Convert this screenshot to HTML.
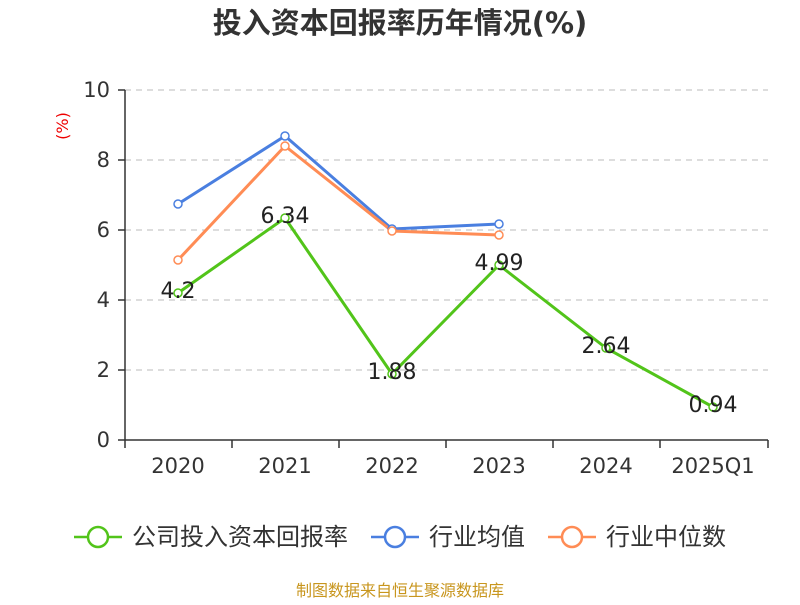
<!DOCTYPE html>
<html><head><meta charset="utf-8"><style>
body{margin:0;background:#fff;}
svg text{font-family:"DejaVu Sans","Noto Sans CJK SC",sans-serif;}
</style></head><body>
<svg width="800" height="600" xmlns="http://www.w3.org/2000/svg">
<text x="400" y="33" text-anchor="middle" font-size="29" font-weight="bold" fill="#333">投入资本回报率历年情况(%)</text>
<text x="68" y="126" font-size="16" fill="#e00" text-anchor="middle" transform="rotate(-90 68 126)">(%)</text>
<g stroke="#bbb" stroke-dasharray="6,5" stroke-width="1">
<line x1="125" y1="90" x2="768" y2="90"/><line x1="125" y1="160" x2="768" y2="160"/>
<line x1="125" y1="230" x2="768" y2="230"/><line x1="125" y1="300" x2="768" y2="300"/>
<line x1="125" y1="370" x2="768" y2="370"/>
</g>
<g stroke="#333" stroke-width="1.5">
<line x1="125" y1="90" x2="125" y2="440"/><line x1="125" y1="440" x2="768" y2="440"/>
<line x1="118" y1="90" x2="125" y2="90"/><line x1="118" y1="160" x2="125" y2="160"/><line x1="118" y1="230" x2="125" y2="230"/><line x1="118" y1="300" x2="125" y2="300"/><line x1="118" y1="370" x2="125" y2="370"/><line x1="118" y1="440" x2="125" y2="440"/>
<line x1="125" y1="440" x2="125" y2="448"/><line x1="232" y1="440" x2="232" y2="448"/><line x1="339" y1="440" x2="339" y2="448"/><line x1="446" y1="440" x2="446" y2="448"/><line x1="553" y1="440" x2="553" y2="448"/><line x1="660" y1="440" x2="660" y2="448"/><line x1="768" y1="440" x2="768" y2="448"/>
</g>
<g font-size="21" fill="#333" text-anchor="end">
<text x="110" y="97">10</text><text x="110" y="167">8</text><text x="110" y="237">6</text><text x="110" y="307">4</text><text x="110" y="377">2</text><text x="110" y="447">0</text>
</g>
<g font-size="21" fill="#333" text-anchor="middle">
<text x="178" y="473">2020</text><text x="285" y="473">2021</text><text x="392" y="473">2022</text><text x="499" y="473">2023</text><text x="606" y="473">2024</text><text x="713" y="473">2025Q1</text>
</g>
<polyline points="178,204 285,136 392,229 499,224" fill="none" stroke="#4a7fe0" stroke-width="3"/>
<polyline points="178,260 285,146 392,231 499,235" fill="none" stroke="#ff8c55" stroke-width="3"/>
<polyline points="178,293 285,218 392,374 499,265 606,348 713,407" fill="none" stroke="#52c41a" stroke-width="3"/>
<g fill="#fff" stroke-width="1.5">
<g stroke="#4a7fe0"><circle cx="178" cy="204" r="4"/><circle cx="285" cy="136" r="4"/><circle cx="392" cy="229" r="4"/><circle cx="499" cy="224" r="4"/></g>
<g stroke="#ff8c55"><circle cx="178" cy="260" r="4"/><circle cx="285" cy="146" r="4"/><circle cx="392" cy="231" r="4"/><circle cx="499" cy="235" r="4"/></g>
<g stroke="#52c41a"><circle cx="178" cy="293" r="4"/><circle cx="285" cy="218" r="4"/><circle cx="392" cy="374" r="4"/><circle cx="499" cy="265" r="4"/><circle cx="606" cy="348" r="4"/><circle cx="713" cy="407" r="4"/></g>
</g>
<g font-size="22" fill="#222" text-anchor="middle">
<text x="178" y="298">4.2</text><text x="285" y="223">6.34</text><text x="392" y="379">1.88</text><text x="499" y="270">4.99</text><text x="606" y="353">2.64</text><text x="713" y="412">0.94</text>
</g>
<g stroke-width="2.5" fill="#fff">
<line x1="74" y1="537" x2="122" y2="537" stroke="#52c41a"/><circle cx="98" cy="537" r="10" stroke="#52c41a"/>
<line x1="371" y1="537" x2="419" y2="537" stroke="#4a7fe0"/><circle cx="395" cy="537" r="10" stroke="#4a7fe0"/>
<line x1="548" y1="537" x2="596" y2="537" stroke="#ff8c55"/><circle cx="572" cy="537" r="10" stroke="#ff8c55"/>
</g>
<g font-size="24" fill="#333">
<text x="132" y="545">公司投入资本回报率</text><text x="429" y="545">行业均值</text><text x="606" y="545">行业中位数</text>
</g>
<text x="400" y="596" text-anchor="middle" font-size="16" fill="#c8961e">制图数据来自恒生聚源数据库</text>
</svg>
</body></html>
